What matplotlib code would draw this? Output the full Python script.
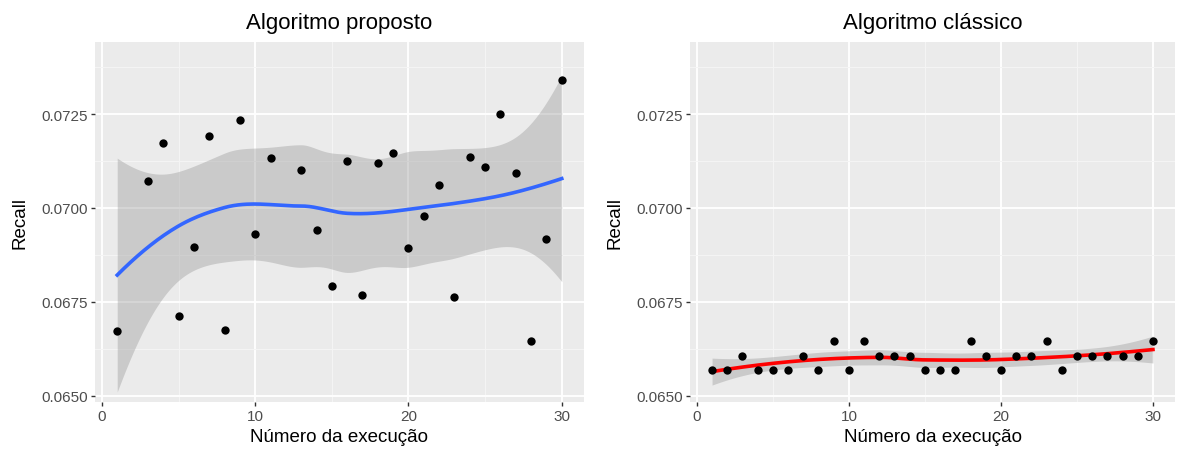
import numpy as np
import matplotlib
matplotlib.use("Agg")
import matplotlib.pyplot as plt
from matplotlib.ticker import MultipleLocator

plt.rcParams['font.family'] = ['Liberation Sans', 'DejaVu Sans']

# execucoes do algoritmo proposto (2 e 12 ficaram de fora)
exec_proposto = [1, 3, 4, 5, 6, 7, 8, 9, 10, 11, 13, 14, 15, 16, 17, 18, 19, 20,
                 21, 22, 23, 24, 25, 26, 27, 28, 29, 30]
recall_proposto = [0.06673, 0.07071, 0.07174, 0.06713, 0.06897, 0.07192, 0.06675,
                   0.07235, 0.06931, 0.07134, 0.07100, 0.06942, 0.06792, 0.07124,
                   0.06768, 0.07119, 0.07146, 0.06894, 0.06979, 0.07060, 0.06763,
                   0.07136, 0.07109, 0.07249, 0.07093, 0.06645, 0.06916, 0.07341]

exec_classico = list(range(1, 31))
recall_classico = [0.06567, 0.06567, 0.06606, 0.06567, 0.06567, 0.06567, 0.06606,
                   0.06567, 0.06645, 0.06567, 0.06645, 0.06606, 0.06606, 0.06606,
                   0.06567, 0.06567, 0.06567, 0.06645, 0.06606, 0.06567, 0.06606,
                   0.06606, 0.06645, 0.06567, 0.06606, 0.06606, 0.06606, 0.06606,
                   0.06606, 0.06645]


def local_rows(x, p, q):
    # ajuste local quadratico com pesos tricubo: linhas do valor e da derivada em p
    d = np.abs(x - p)
    h = np.sort(d)[q - 1]
    u = np.clip(d / h, 0, 1)
    w = (1 - u ** 3) ** 3
    X = np.column_stack([np.ones(len(x)), x - p, (x - p) ** 2])
    XtW = X.T * w
    A = np.linalg.solve(XtW @ X, XtW)
    return A[0], A[1]


def kd_vertices(xs, fc):
    # divide as celulas pela mediana ate ficarem com no maximo fc pontos
    xs = np.sort(xs)
    mu = 0.005 * (xs[-1] - xs[0])
    verts = {xs[0] - mu, xs[-1] + mu}

    def split(pts):
        if len(pts) <= fc:
            return
        m = (len(pts) + 1) // 2 - 1
        verts.add(pts[m])
        split(pts[:m + 1])
        split(pts[m + 1:])

    split(xs)
    return np.array(sorted(verts))


def loess_operator(x, x0, span=0.75, cell=0.2):
    n = len(x)
    q = int(np.floor(n * span))
    fc = int(np.floor(n * span * cell))
    vs = kd_vertices(x, fc)
    vals, slopes = zip(*[local_rows(x, v, q) for v in vs])
    vals, slopes = np.array(vals), np.array(slopes)
    rows = []
    for p in x0:
        j = min(max(np.searchsorted(vs, p) - 1, 0), len(vs) - 2)
        a, b = vs[j], vs[j + 1]
        dx = b - a
        t = (p - a) / dx
        h00 = 2 * t ** 3 - 3 * t ** 2 + 1
        h10 = t ** 3 - 2 * t ** 2 + t
        h01 = -2 * t ** 3 + 3 * t ** 2
        h11 = t ** 3 - t ** 2
        rows.append(h00 * vals[j] + h10 * dx * slopes[j]
                    + h01 * vals[j + 1] + h11 * dx * slopes[j + 1])
    return np.array(rows)


def loess_ci(x, y, grid):
    x = np.asarray(x, float)
    y = np.asarray(y, float)
    L = loess_operator(x, x)
    res = y - L @ y
    M = np.eye(len(x)) - L
    MM = M.T @ M
    d1 = np.trace(MM)
    d2 = np.trace(MM @ MM)
    sigma = np.sqrt(np.sum(res ** 2) / d1)
    df = d1 ** 2 / d2
    z = 1.959964
    t = z + (z ** 3 + z) / (4 * df) + (5 * z ** 5 + 16 * z ** 3 + 3 * z) / (96 * df ** 2)
    G = loess_operator(x, grid)
    fit = G @ y
    se = sigma * np.sqrt(np.sum(G ** 2, axis=1))
    return fit, fit - t * se, fit + t * se


fig = plt.figure(figsize=(11.77, 4.56), dpi=100)
ax1 = fig.add_axes([95 / 1177, 53 / 456, 489 / 1177, 360 / 456])
ax2 = fig.add_axes([690 / 1177, 53 / 456, 485 / 1177, 360 / 456])

paineis = [
    (ax1, exec_proposto, recall_proposto, '#3366FF', 'Algoritmo proposto'),
    (ax2, exec_classico, recall_classico, '#FF0000', 'Algoritmo clássico'),
]

for ax, xs, ys, cor, titulo in paineis:
    ax.set_facecolor('#EBEBEB')
    for s in ax.spines.values():
        s.set_visible(False)
    grid = np.linspace(min(xs), max(xs), 200)
    fit, lo, hi = loess_ci(xs, ys, grid)
    ax.fill_between(grid, lo, hi, color='#999999', alpha=0.4, lw=0, zorder=2)
    ax.plot(grid, fit, color=cor, lw=2.6, zorder=3)
    ax.scatter(xs, ys, s=36, color='black', zorder=4, lw=0)

    ax.set_xlim(-0.45, 31.45)
    ax.set_ylim(0.06483, 0.07442)
    ax.xaxis.set_major_locator(MultipleLocator(10))
    ax.xaxis.set_minor_locator(MultipleLocator(5))
    ax.set_yticks([0.0650, 0.0675, 0.0700, 0.0725])
    ax.set_yticklabels(['0.0650', '0.0675', '0.0700', '0.0725'])
    ax.yaxis.set_minor_locator(MultipleLocator(0.00125))
    ax.grid(which='major', color='white', lw=1.3, zorder=0)
    ax.grid(which='minor', color='#F5F5F5', lw=0.7, zorder=0)
    ax.set_axisbelow(True)
    ax.tick_params(which='major', length=3, width=1, color='#333333',
                   labelcolor='#4D4D4D', labelsize=11, pad=2)
    ax.tick_params(which='minor', length=0)
    ax.set_xlabel('Número da execução', fontsize=13.5, color='black', labelpad=4)
    ax.set_ylabel('Recall', fontsize=13.5, color='black', labelpad=9)
    ax.set_title(titulo, fontsize=16, color='black', pad=10)

fig.savefig('out.png', dpi=100)
